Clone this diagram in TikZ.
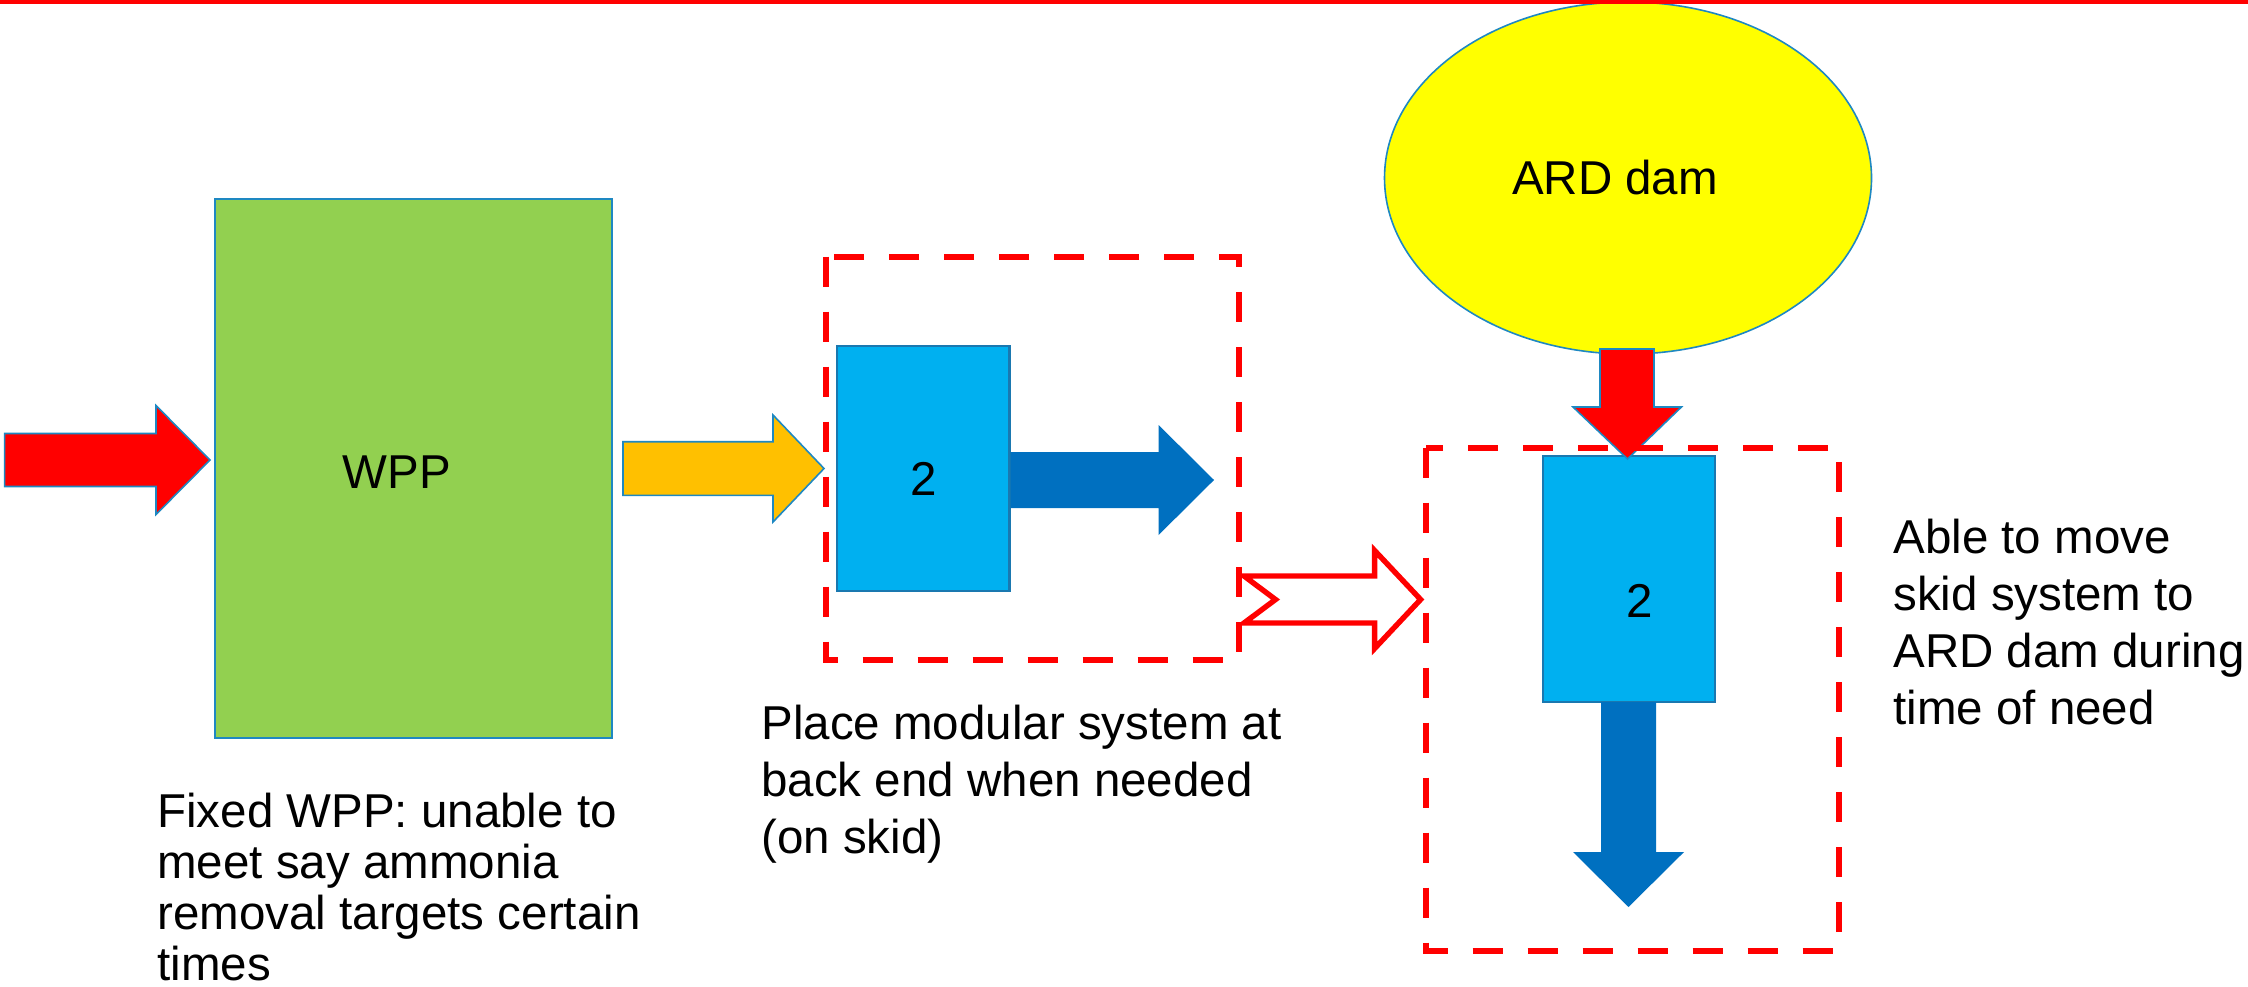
\documentclass[tikz,border=0pt]{standalone}
\usepackage{fontspec}
\setmainfont{Liberation Sans}
\usetikzlibrary{shapes.geometric}
\definecolor{redA}{HTML}{FF0000}
\definecolor{greenA}{HTML}{92D050}
\definecolor{amberA}{HTML}{FFC000}
\definecolor{skyA}{HTML}{00B0F0}
\definecolor{navyA}{HTML}{0070C0}
\definecolor{yellowA}{HTML}{FFFF00}
\definecolor{edgeA}{HTML}{1E88C2}
\definecolor{edgeB}{HTML}{1A78B0}
\begin{document}
\begin{tikzpicture}[x=0.5pt,y=-0.5pt,
  txt/.style={inner sep=0pt, font=\fontsize{23.75}{28.5}\selectfont},
  txtB/.style={inner sep=0pt, font=\fontsize{23.75}{25.5}\selectfont},
  boxg/.style={rectangle, draw=edgeA, fill=greenA, line width=1pt, inner sep=0pt},
  boxb/.style={rectangle, draw=edgeB, fill=skyA, line width=1.2pt, inner sep=0pt},
  dashbox/.style={draw=redA, line width=3pt, dash pattern=on 15pt off 12.5pt},
  redarrow/.style={fill=redA, draw=edgeA, line width=0.8pt, line join=miter},
  amberarrow/.style={fill=amberA, draw=edgeA, line width=0.8pt, line join=miter},
  navyarrow/.style={fill=navyA},
  hollowarrow/.style={fill=white, draw=redA, line width=2.7pt, line join=miter}
]
\useasboundingbox (0,0) rectangle (2248,986);
\fill[white] (0,0) rectangle (2248,986);

% ellipse
\node[ellipse, draw=edgeA, fill=yellowA, line width=0.8pt, minimum width=243.5pt, minimum height=176pt, inner sep=0pt] (dam) at (1628,178) {};
\node[txt, anchor=base] (damlabel) at (1615,194.6) {ARD dam};

% top rule
\fill[redA] (0,0) rectangle (2248,3.5);

% boxes
\node[boxg, minimum width=198.5pt, minimum height=269.7pt] (wpp) at (413.5,468.3) {};
\node[txt, anchor=base] (wpplabel) at (397,488) {WPP};

\node[boxb, minimum width=86.25pt, minimum height=122.5pt] (mod1) at (923.25,468.5) {};
\node[txt, anchor=base] (mod1label) at (924,495.6) {2};

\node[boxb, minimum width=86pt, minimum height=123pt] (mod2) at (1629,579) {};
\node[txt, anchor=base] (mod2label) at (1640,617) {2};

% block arrows
\draw[redarrow] (4.6,433.5) -- (156,433.5) -- (156,405.5) -- (210,460) -- (156,514.5) -- (156,486.5) -- (4.6,486.5) -- cycle;
\draw[amberarrow] (623,441.7) -- (773,441.7) -- (773,415) -- (824,468.5) -- (773,522) -- (773,495.3) -- (623,495.3) -- cycle;
\fill[navyarrow] (mod1.east |- 0,452) -- (1158.6,452) -- (1158.6,425) -- (1214,480) -- (1158.6,535) -- (1158.6,508) -- (mod1.east |- 0,508) -- cycle;
\draw[hollowarrow] (1244,576) -- (1374.6,576) -- (1374.6,550.5) -- (1420.6,599.5) -- (1374.6,648.5) -- (1374.6,623) -- (1244,623) -- (1275.5,599.5) -- cycle;
\draw[redarrow] (1600,349) -- (1654,349) -- (1654,407) -- (1681.4,407) -- (1627.5,459) -- (1573,407) -- (1600,407) -- cycle;
\fill[navyarrow] (1601,702) -- (1656,702) -- (1656,852) -- (1684,852) -- (1628.5,907) -- (1573,852) -- (1601,852) -- cycle;

% dashed frames
\draw[dashbox] (826,256.5) rectangle (1239,660);
\draw[dashbox] (1426,447.5) rectangle (1838.5,951);

% captions
\node[txtB, anchor=base west] (capA) at (157,827) {\parbox[t]{300pt}{\raggedright Fixed WPP: unable to\\meet say ammonia\\removal targets certain\\times}};
\node[txt, anchor=base west] (capB) at (761,739) {\parbox[t]{300pt}{\raggedright Place modular system at\\back end when needed\\(on skid)}};
\node[txt, anchor=base west] (capC) at (1893,553.7) {\parbox[t]{200pt}{\raggedright Able to move\\skid system to\\ARD dam during\\time of need}};
\end{tikzpicture}
\end{document}
